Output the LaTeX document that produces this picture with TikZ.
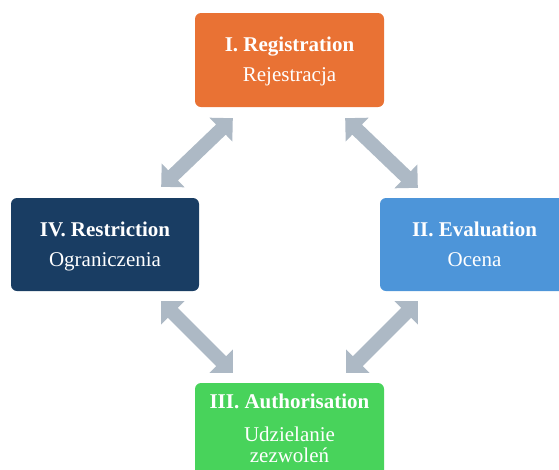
\documentclass[tikz,border=0pt]{standalone}
\usepackage{fontspec}
\setmainfont{Liberation Serif}
\newfontfamily\tnrfont{Liberation Serif}
\usetikzlibrary{calc}
\definecolor{cOrange}{HTML}{E97234}
\definecolor{cNavy}{HTML}{193D63}
\definecolor{cBlue}{HTML}{4D95D9}
\definecolor{cGreen}{HTML}{48D35B}
\definecolor{cGray}{HTML}{ADB9C5}
\newcommand\fatarrow[2]{%
 \fill[cGray] (#1)
 -- ($($(#1)!16.5pt!(#2)$)!16.5pt!90:(#2)$)
 -- ($($(#1)!16.5pt!(#2)$)!7pt!90:(#2)$)
 -- ($($(#2)!16.5pt!(#1)$)!7pt!-90:(#1)$)
 -- ($($(#2)!16.5pt!(#1)$)!16.5pt!-90:(#1)$)
 -- (#2)
 -- ($($(#2)!16.5pt!(#1)$)!16.5pt!90:(#1)$)
 -- ($($(#2)!16.5pt!(#1)$)!7pt!90:(#1)$)
 -- ($($(#1)!16.5pt!(#2)$)!7pt!-90:(#2)$)
 -- ($($(#1)!16.5pt!(#2)$)!16.5pt!-90:(#2)$)
 -- cycle;}
\tikzset{
 box/.style={rounded corners=6pt, inner sep=0pt, draw=none},
 lbl/.style={text=white, anchor=base, inner sep=0pt, font=\tnrfont\fontsize{21}{25}\selectfont},
 ttl/.style={lbl, font=\tnrfont\fontsize{21}{25}\selectfont\bfseries}
}
\begin{document}
\begin{tikzpicture}[x=1pt,y=-1pt]
\useasboundingbox (0,0) rectangle (559,469);
\clip (0,0) rectangle (559,469);
% boxes
\node[box, fill=cOrange, minimum width=189pt, minimum height=94pt] (reg) at (289.5,60) {};
\node[box, fill=cNavy, minimum width=188pt, minimum height=93pt] (res) at (105,244.5) {};
\node[box, fill=cBlue, minimum width=189pt, minimum height=93pt] (eva) at (474.5,244.5) {};
\node[box, fill=cGreen, minimum width=189pt, minimum height=94pt] (aut) at (289.5,430) {};
% texts
\node[ttl] (regT) at (289.5,51) {I. Registration};
\node[lbl] (regS) at (289.5,81) {Rejestracja};
\node[ttl] (resT) at (105,236) {IV. Restriction};
\node[lbl] (resS) at (105,266) {Ograniczenia};
\node[ttl] (evaT) at (474.5,236) {II. Evaluation};
\node[lbl] (evaS) at (474.5,266) {Ocena};
\node[ttl] (autT) at (289.5,408) {III. Authorisation};
\node[lbl] (autS1) at (289.5,441) {Udzielanie};
\node[lbl] (autS2) at (289.5,462) {zezwoleń};
% arrow ends
\coordinate (a1) at ($(reg.south west)+(38,11)$);
\coordinate (a2) at ($(res.north east)+(-38,-11)$);
\coordinate (b1) at ($(reg.south east)+(-39,11)$);
\coordinate (b2) at ($(eva.north west)+(38,-10)$);
\coordinate (c1) at ($(res.south east)+(-38,10)$);
\coordinate (c2) at ($(aut.north west)+(38,-10)$);
\coordinate (d1) at ($(aut.north east)+(-38,-10)$);
\coordinate (d2) at ($(eva.south west)+(38,10)$);
\fatarrow{a1}{a2}
\fatarrow{b1}{b2}
\fatarrow{c1}{c2}
\fatarrow{d1}{d2}
\end{tikzpicture}
\end{document}
